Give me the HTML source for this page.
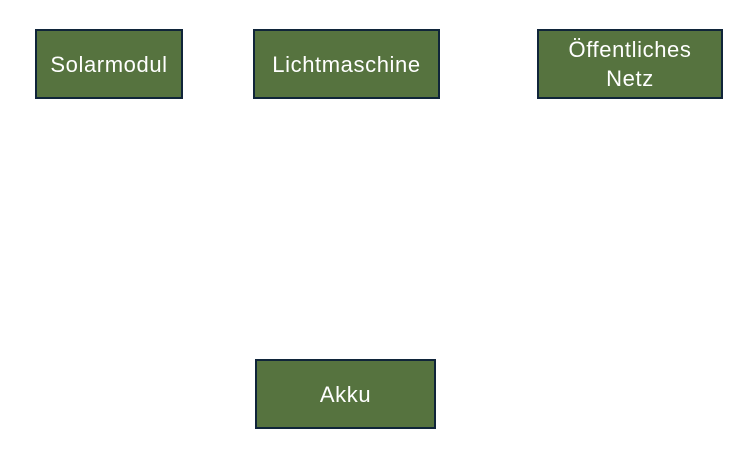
<!DOCTYPE html>
<html>
<head>
<meta charset="utf-8">
<style>
  html, body { margin:0; padding:0; background:#ffffff; }
  body { width:756px; height:454px; position:relative; overflow:hidden;
         font-family:"Liberation Sans", "DejaVu Sans", sans-serif; }
  .box { position:absolute; box-sizing:border-box; background:#56733f;
         border:2px solid #10253a; color:#ffffff; font-size:22px;
         letter-spacing:0.6px; display:flex; align-items:center;
         justify-content:center; text-align:center; line-height:29px; }
</style>
</head>
<body>
  <div class="box" style="left:35px; top:29px; width:148px; height:70px;">Solarmodul</div>
  <div class="box" style="left:253px; top:29px; width:187px; height:70px;">Lichtmaschine</div>
  <div class="box" style="left:537px; top:29px; width:186px; height:70px;">Öffentliches<br>Netz</div>
  <div class="box" style="left:255px; top:359px; width:181px; height:70px;">Akku</div>
</body>
</html>
